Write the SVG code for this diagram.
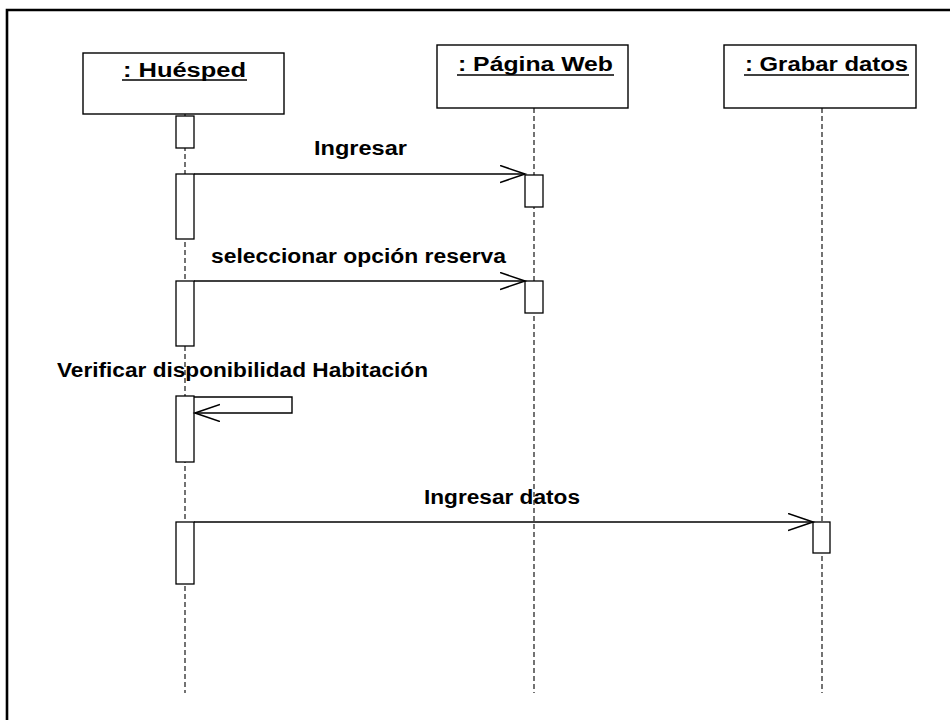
<svg xmlns="http://www.w3.org/2000/svg" width="950" height="720" viewBox="0 0 950 720">
<defs>
<style>
.frame{fill:none;stroke:#000;stroke-width:2.6}
.box{fill:#fff;stroke:#000;stroke-width:1.4}
.act{fill:#fff;stroke:#000;stroke-width:1.3}
.life{fill:none;stroke:#000;stroke-width:1.1;stroke-dasharray:5 3}
.msg{fill:none;stroke:#000;stroke-width:1.4}
.lbl{font-family:"Liberation Sans",Arial,sans-serif;font-size:20px;font-weight:bold;fill:#000}
.ul{stroke:#000;stroke-width:1.5}
</style>
<marker id="open" markerUnits="userSpaceOnUse" markerWidth="28" markerHeight="20" refX="25" refY="9" orient="auto" viewBox="0 0 28 20">
<path d="M0,0.5 L25,9 L0,17.5" fill="none" stroke="#000" stroke-width="1.6"/>
</marker>
</defs>
<rect width="950" height="720" fill="#fff"/>
<path class="frame" d="M7,720 V10 H950"/>

<g id="lifelines">
<line class="life" x1="185" y1="114" x2="185" y2="693"/>
<line class="life" x1="534" y1="108" x2="534" y2="693"/>
<line class="life" x1="822" y1="108" x2="822" y2="693"/>
</g>

<g id="huesped">
<rect class="box" x="83" y="53" width="201" height="61"/>
<text class="lbl" x="123" y="77" textLength="123" lengthAdjust="spacingAndGlyphs">: Huésped</text>
<line class="ul" x1="122" y1="80" x2="247" y2="80"/>
<rect class="act" x="176" y="116" width="18" height="32"/>
<rect class="act" x="176" y="174" width="18" height="65"/>
<rect class="act" x="176" y="281" width="18" height="65"/>
<rect class="act" x="176" y="396" width="18" height="66"/>
<rect class="act" x="176" y="522" width="18" height="62"/>
</g>

<g id="pagina-web">
<rect class="box" x="437" y="45" width="191" height="63"/>
<text class="lbl" x="458" y="71" textLength="155" lengthAdjust="spacingAndGlyphs">: Página Web</text>
<line class="ul" x1="457" y1="75" x2="614" y2="75"/>
<rect class="act" x="525" y="175" width="18" height="32"/>
<rect class="act" x="525" y="281" width="18" height="32"/>
</g>

<g id="grabar-datos">
<rect class="box" x="724" y="45" width="192" height="63"/>
<text class="lbl" x="745" y="71" textLength="163" lengthAdjust="spacingAndGlyphs">: Grabar datos</text>
<line class="ul" x1="744" y1="75" x2="909" y2="75"/>
<rect class="act" x="813" y="522" width="17" height="31"/>
</g>

<g id="connectors">
<line class="msg" x1="194" y1="174" x2="525" y2="174" marker-end="url(#open)"/>
<line class="msg" x1="194" y1="281" x2="525" y2="281" marker-end="url(#open)"/>
<path class="msg" d="M194,397 H292 V413 H195" marker-end="url(#open)"/>
<line class="msg" x1="194" y1="522" x2="813" y2="522" marker-end="url(#open)"/>
</g>

<g id="labels">
<text class="lbl" x="314" y="155" textLength="93" lengthAdjust="spacingAndGlyphs">Ingresar</text>
<text class="lbl" x="211" y="263" textLength="295" lengthAdjust="spacingAndGlyphs">seleccionar opción reserva</text>
<text class="lbl" x="57" y="377" textLength="371" lengthAdjust="spacingAndGlyphs">Verificar disponibilidad Habitación</text>
<text class="lbl" x="424" y="504" textLength="156" lengthAdjust="spacingAndGlyphs">Ingresar datos</text>
</g>
</svg>
